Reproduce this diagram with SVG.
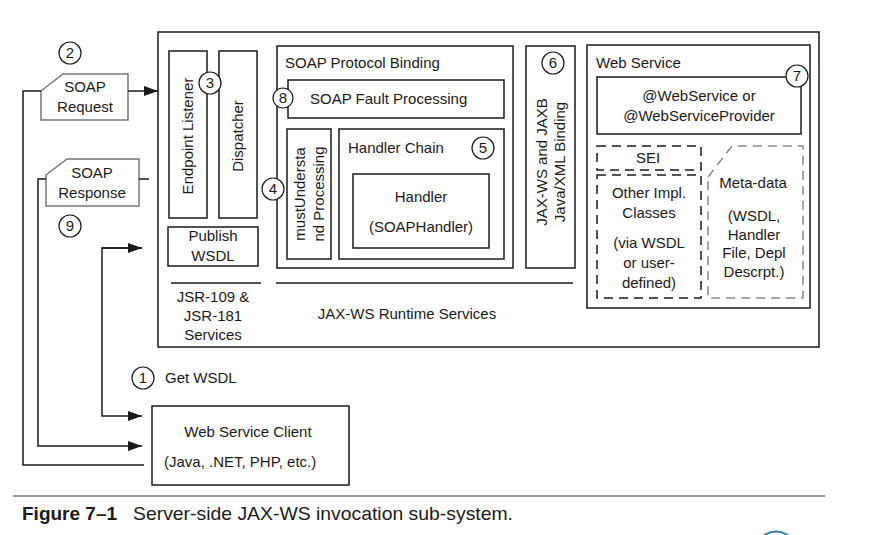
<svg xmlns="http://www.w3.org/2000/svg" width="889" height="535" viewBox="0 0 889 535">
<defs>
<style>
text{font-family:"Liberation Sans",Arial,sans-serif;font-size:15px;fill:#1a1a1a}
.c{text-anchor:middle}
.box{fill:none;stroke:#1a1a1a;stroke-width:1.5}
.tag{fill:#fff;stroke:#777;stroke-width:1.5}
.dash{fill:none;stroke:#1a1a1a;stroke-width:1.5;stroke-dasharray:9 6}
.gdash{fill:none;stroke:#888;stroke-width:1.5;stroke-dasharray:9 6}
.circ{fill:#fff;stroke:#1a1a1a;stroke-width:1.2}
.ln{fill:none;stroke:#1a1a1a;stroke-width:1.5}
</style>
<marker id="ah" markerWidth="14" markerHeight="10" refX="14" refY="5" orient="auto" markerUnits="userSpaceOnUse">
<path d="M0,0 L14,5 L0,10 Z" fill="#1a1a1a"/>
</marker>
</defs>
<rect width="889" height="535" fill="#fff"/>

<g id="server">
<rect class="box" x="158" y="32" width="661" height="315"/>
</g>

<g id="endpoint-listener">
<rect class="box" x="169" y="51" width="38" height="167"/>
<text class="c" transform="translate(193,136) rotate(-90)">Endpoint Listener</text>
</g>
<g id="dispatcher">
<rect class="box" x="219" y="51" width="38" height="167"/>
<text class="c" transform="translate(243,136) rotate(-90)">Dispatcher</text>
</g>
<g id="publish-wsdl">
<rect class="box" x="168" y="227" width="90" height="39"/>
<text class="c" x="213" y="241">Publish</text>
<text class="c" x="213" y="261">WSDL</text>
</g>
<g id="jsr-services">
<line class="ln" x1="171" y1="283" x2="261" y2="283"/>
<text class="c" x="213" y="302">JSR-109 &amp;</text>
<text class="c" x="213" y="321">JSR-181</text>
<text class="c" x="213" y="340">Services</text>
</g>
<g id="jaxws-runtime">
<line class="ln" x1="276" y1="283" x2="573" y2="283"/>
<text class="c" x="407" y="319">JAX-WS Runtime Services</text>
</g>

<g id="soap-protocol-binding">
<rect class="box" x="277" y="46" width="236" height="222"/>
<text x="285" y="68">SOAP Protocol Binding</text>
</g>
<g id="soap-fault">
<rect class="box" x="288" y="80" width="216" height="38"/>
<text x="310" y="104">SOAP Fault Processing</text>
</g>
<g id="must-understand">
<rect class="box" x="287" y="129" width="44" height="130"/>
<text class="c" transform="translate(305,194) rotate(-90)">mustUndersta</text>
<text class="c" transform="translate(324,194) rotate(-90)">nd Processing</text>
</g>
<g id="handler-chain">
<rect class="box" x="339" y="129" width="165" height="130"/>
<text x="348" y="153">Handler Chain</text>
</g>
<g id="handler">
<rect class="box" x="353" y="174" width="136" height="74"/>
<text class="c" x="421" y="202">Handler</text>
<text class="c" x="421" y="232">(SOAPHandler)</text>
</g>
<g id="jaxb-binding">
<rect class="box" x="526" y="46" width="49" height="222"/>
<text class="c" transform="translate(547,162) rotate(-90)">JAX-WS and JAXB</text>
<text class="c" transform="translate(565,162) rotate(-90)">Java/XML Binding</text>
</g>

<g id="web-service">
<rect class="box" x="587" y="45" width="223" height="263"/>
<text x="596" y="68">Web Service</text>
</g>
<g id="webservice-annotation">
<rect class="box" x="597" y="77" width="204" height="57"/>
<text class="c" x="699" y="101">@WebService or</text>
<text class="c" x="699" y="121">@WebServiceProvider</text>
</g>
<g id="sei">
<rect class="dash" x="597" y="146" width="104" height="24"/>
<text class="c" x="648" y="163">SEI</text>
</g>
<g id="other-impl">
<rect class="dash" x="597" y="175" width="104" height="123"/>
<text class="c" x="649" y="198">Other Impl.</text>
<text class="c" x="649" y="218">Classes</text>
<text class="c" x="649" y="248">(via WSDL</text>
<text class="c" x="649" y="268">or user-</text>
<text class="c" x="649" y="288">defined)</text>
</g>
<g id="meta-data">
<path class="gdash" d="M708,177 L732,146 L803,146 L803,298 L708,298 Z"/>
<text class="c" x="753" y="188">Meta-data</text>
<text class="c" x="754" y="221">(WSDL,</text>
<text class="c" x="754" y="240">Handler</text>
<text class="c" x="754" y="258">File, Depl</text>
<text class="c" x="754" y="277">Descrpt.)</text>
</g>

<g id="soap-request">
<path class="tag" d="M41,91 L63,74 L128,74 L128,120 L41,120 Z"/>
<text class="c" x="85" y="92">SOAP</text>
<text class="c" x="85" y="112">Request</text>
</g>
<g id="soap-response">
<path class="tag" d="M46,175 L67,159 L139,159 L139,206 L46,206 Z"/>
<text class="c" x="92" y="178">SOAP</text>
<text class="c" x="92" y="198">Response</text>
</g>

<g id="client">
<rect class="box" x="152" y="406" width="197" height="79"/>
<text class="c" x="248" y="437">Web Service Client</text>
<text x="164" y="467">(Java, .NET, PHP, etc.)</text>
</g>

<g id="connectors">
<path class="ln" d="M144,465 L23,465 L23,91 L41,91"/>
<line class="ln" x1="128" y1="91" x2="158" y2="91" marker-end="url(#ah)"/>
<line class="ln" x1="139" y1="179" x2="149" y2="179"/>
<path class="ln" d="M46,179 L38,179 L38,446 L142,446" marker-end="url(#ah)"/>
<path class="ln" d="M142,248 L102,248 L102,416 L142,416" marker-end="url(#ah)"/>
<line class="ln" x1="102" y1="248" x2="142" y2="248" marker-end="url(#ah)"/>
</g>

<g id="step-labels">
<circle class="circ" cx="70" cy="53" r="11"/><text class="c" x="70" y="58">2</text>
<circle class="circ" cx="70" cy="226" r="11"/><text class="c" x="70" y="231">9</text>
<circle class="circ" cx="210" cy="83" r="11"/><text class="c" x="210" y="88">3</text>
<circle class="circ" cx="273" cy="189" r="11"/><text class="c" x="273" y="194">4</text>
<circle class="circ" cx="283" cy="98" r="10"/><text class="c" x="283" y="103">8</text>
<circle class="circ" cx="483" cy="148" r="11"/><text class="c" x="483" y="153">5</text>
<circle class="circ" cx="553" cy="63" r="11"/><text class="c" x="553" y="68">6</text>
<circle class="circ" cx="797" cy="76" r="11"/><text class="c" x="797" y="81">7</text>
<circle class="circ" cx="143" cy="378" r="11"/><text class="c" x="143" y="383">1</text>
<text x="165" y="383">Get WSDL</text>
</g>

<g id="caption">
<line x1="13" y1="496" x2="825" y2="496" stroke="#333" stroke-width="1.2"/>
<text x="22" y="520" style="font-size:19px;font-weight:bold">Figure 7–1</text>
<text x="133" y="520" style="font-size:19px" textLength="380" lengthAdjust="spacingAndGlyphs">Server-side JAX-WS invocation sub-system.</text>
<path d="M764,535 Q776,528 788,535" fill="none" stroke="#2a7f9a" stroke-width="2"/>
</g>
</svg>
